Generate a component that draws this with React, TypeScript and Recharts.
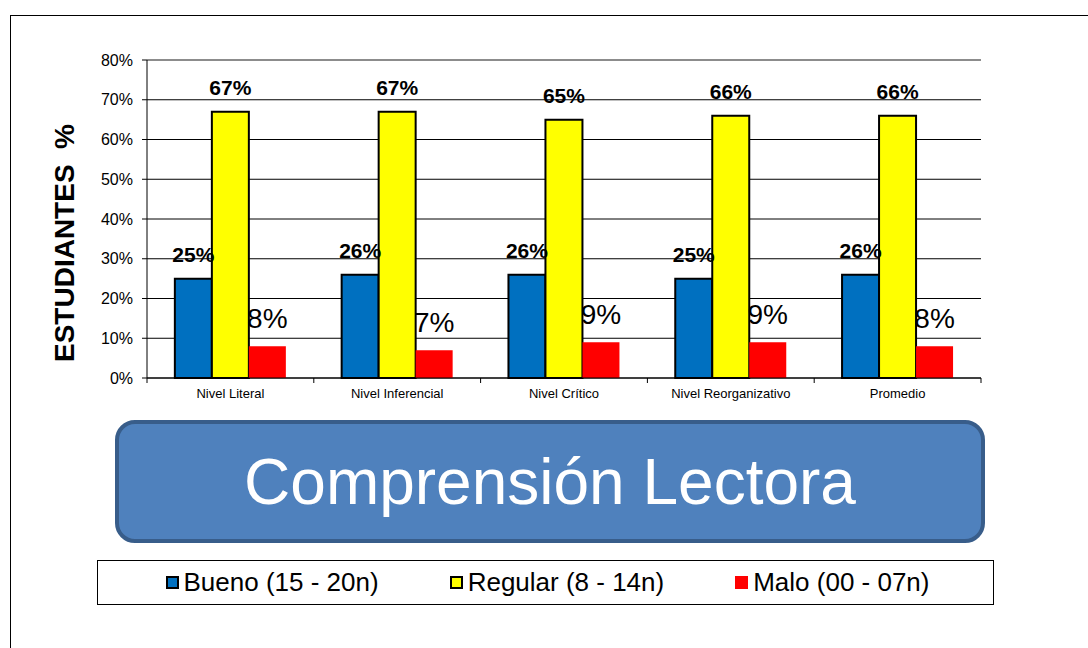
import React from "react";
import {
  BarChart,
  Bar,
  XAxis,
  YAxis,
  CartesianGrid,
  LabelList,
  ReferenceLine,
} from "recharts";

const categories = [
  "Nivel Literal",
  "Nivel Inferencial",
  "Nivel Crítico",
  "Nivel Reorganizativo",
  "Promedio",
];
const bueno = [25, 26, 26, 25, 26];
const regular = [67, 67, 65, 66, 66];
const malo = [8, 7, 9, 9, 8];
const yTicks = [0, 10, 20, 30, 40, 50, 60, 70, 80];

const seriesNames = ["Bueno (15 - 20n)", "Regular (8 - 14n)", "Malo (00 - 07n)"];
const seriesColors = ["#0070C0", "#FFFF00", "#FF0000"];

const data = categories.map((name, i) => ({
  name,
  bueno: bueno[i],
  regular: regular[i],
  malo: malo[i],
}));

const FONT = "Arial, 'Liberation Sans', sans-serif";
const CHART_W = 1088;
const CHART_H = 420;
const MARGIN = { top: 60, right: 107, left: 0, bottom: 0 };
const Y_AXIS_W = 147;
const plotW = CHART_W - MARGIN.left - MARGIN.right - Y_AXIS_W;
const halfBand = plotW / categories.length / 2;

const pct = (v: number) => `${v}%`;

// category label plus the small boundary ticks between groups
function CategoryTick(props: any) {
  const { x, y, payload, index } = props;
  return (
    <g>
      <line x1={x - halfBand} x2={x - halfBand} y1={y} y2={y + 5} stroke="#000" />
      {index === categories.length - 1 && (
        <line x1={x + halfBand} x2={x + halfBand} y1={y} y2={y + 5} stroke="#000" />
      )}
      <text
        x={x}
        y={y + 20}
        textAnchor="middle"
        fontSize={13}
        fontFamily={FONT}
        fill="#000"
      >
        {payload.value}
      </text>
    </g>
  );
}

const boldLabel = { fill: "#000", fontSize: 21, fontWeight: "bold", fontFamily: FONT };

export default function App() {
  return (
    <div
      style={{
        position: "absolute",
        left: 0,
        top: 0,
        width: 1088,
        height: 648,
        overflow: "hidden",
        background: "#fff",
        fontFamily: FONT,
      }}
    >
      <div
        style={{
          position: "absolute",
          left: 10,
          top: 15,
          width: 1200,
          height: 800,
          borderLeft: "1px solid #000",
          borderTop: "1px solid #000",
        }}
      />

      <div style={{ position: "absolute", left: 0, top: 0 }}>
        <BarChart
          width={CHART_W}
          height={CHART_H}
          data={data}
          margin={MARGIN}
          barCategoryGap="16.7%"
          barGap={0}
        >
          <CartesianGrid vertical={false} stroke="#000" />
          <XAxis
            dataKey="name"
            height={42}
            tickSize={0}
            tickMargin={0}
            tickLine={false}
            axisLine={{ stroke: "#000" }}
            tick={<CategoryTick />}
            interval={0}
          />
          <YAxis
            width={Y_AXIS_W}
            domain={[0, 80]}
            ticks={yTicks}
            tickFormatter={pct}
            tickSize={5}
            tickMargin={9}
            axisLine={{ stroke: "#000" }}
            tickLine={{ stroke: "#000" }}
            tick={{ fill: "#000", fontSize: 16, fontFamily: FONT }}
            interval={0}
          />
          <YAxis
            yAxisId="r"
            orientation="right"
            width={0}
            domain={[0, 80]}
            tick={false}
            tickLine={false}
            axisLine={{ stroke: "#8c8c8c", strokeWidth: 2 }}
          />
          <ReferenceLine y={80} stroke="#8c8c8c" strokeWidth={2} />
          <Bar
            dataKey="bueno"
            fill={seriesColors[0]}
            stroke="#000"
            strokeWidth={2}
            isAnimationActive={false}
          >
            <LabelList dataKey="bueno" position="top" offset={17} formatter={pct} style={boldLabel} />
          </Bar>
          <Bar
            dataKey="regular"
            fill={seriesColors[1]}
            stroke="#000"
            strokeWidth={2}
            isAnimationActive={false}
          >
            <LabelList dataKey="regular" position="top" offset={17} formatter={pct} style={boldLabel} />
          </Bar>
          <Bar dataKey="malo" fill={seriesColors[2]} isAnimationActive={false}>
            <LabelList
              dataKey="malo"
              position="top"
              offset={18}
              formatter={pct}
              style={{ fill: "#000", fontSize: 28, fontFamily: FONT }}
            />
          </Bar>
        </BarChart>
      </div>

      <div
        style={{
          position: "absolute",
          left: 65,
          top: 243,
          transform: "translate(-50%, -50%) rotate(-90deg)",
          fontSize: 28,
          fontWeight: "bold",
          whiteSpace: "pre",
          color: "#000",
          lineHeight: 1,
        }}
      >
        {"ESTUDIANTES  %"}
      </div>

      <div
        style={{
          position: "absolute",
          left: 115,
          top: 420,
          width: 870,
          height: 123,
          boxSizing: "border-box",
          background: "#4F81BD",
          border: "4px solid #385D8A",
          borderRadius: 20,
          display: "flex",
          alignItems: "center",
          justifyContent: "center",
          color: "#fff",
          fontSize: 64,
        }}
      >
        Comprensión Lectora
      </div>

      <div
        style={{
          position: "absolute",
          left: 97,
          top: 560,
          width: 897,
          height: 45,
          boxSizing: "border-box",
          border: "1px solid #000",
          display: "flex",
          alignItems: "center",
          justifyContent: "center",
          gap: 71,
          paddingLeft: 4,
          fontSize: 26,
          color: "#000",
        }}
      >
        {seriesNames.map((name, i) => (
          <div key={name} style={{ display: "flex", alignItems: "center" }}>
            <span
              style={{
                display: "inline-block",
                width: 13,
                height: 13,
                boxSizing: "border-box",
                background: seriesColors[i],
                border: i < 2 ? "2px solid #000" : "none",
                marginRight: 5,
              }}
            />
            <span>{name}</span>
          </div>
        ))}
      </div>
    </div>
  );
}
